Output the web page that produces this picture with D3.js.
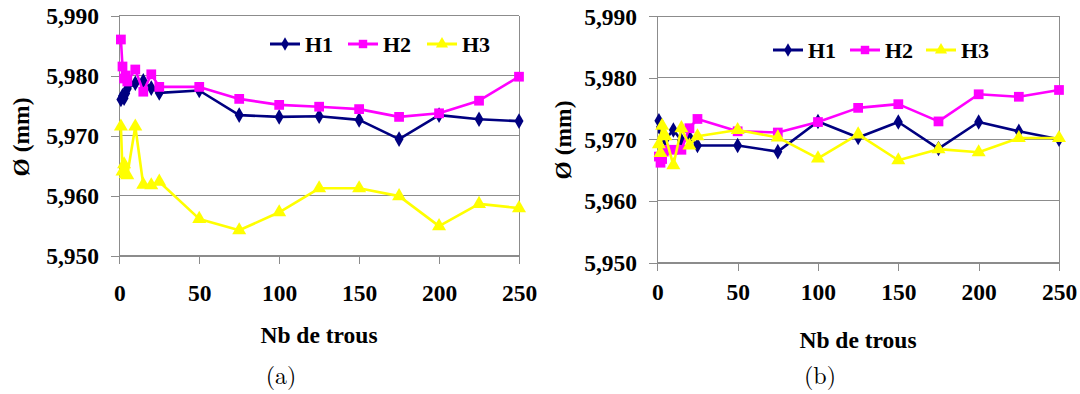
<!DOCTYPE html>
<html>
<head>
<meta charset="utf-8">
<script src="https://cdn.jsdelivr.net/npm/d3@7"></script>
</head>
<body style="margin:0">
<svg id="chart" width="1080" height="394"></svg>
<script>
// ---- data ----
const xValues = [1, 2, 3, 4, 5, 10, 15, 20, 25, 50, 75, 100, 125, 150, 175, 200, 225, 250];
const seriesNames = ["H1", "H2", "H3"];
const xTicks = [0, 50, 100, 150, 200, 250];
const yTicks = [5.950, 5.960, 5.970, 5.980, 5.990];

// panel (a)
const aH1 = [5.9760, 5.9766, 5.9762, 5.9770, 5.9778, 5.9787, 5.9791, 5.9779, 5.9771, 5.9775, 5.9734, 5.9731, 5.9732, 5.9726, 5.9694, 5.9734, 5.9727, 5.9724];
const aH2 = [5.9860, 5.9815, 5.9795, 5.9800, 5.9790, 5.9810, 5.9773, 5.9802, 5.9781, 5.9781, 5.9761, 5.9751, 5.9748, 5.9744, 5.9731, 5.9737, 5.9758, 5.9798];
const aH3 = [5.9715, 5.9640, 5.9652, 5.9636, 5.9634, 5.9715, 5.9618, 5.9617, 5.9623, 5.9561, 5.9542, 5.9572, 5.9612, 5.9612, 5.9599, 5.9549, 5.9586, 5.9579];

// panel (b)
const bH1 = [5.9730, 5.9720, 5.9712, 5.9705, 5.9700, 5.9715, 5.9698, 5.9703, 5.9690, 5.9690, 5.9680, 5.9729, 5.9703, 5.9728, 5.9685, 5.9728, 5.9713, 5.9700];
const bH2 = [5.9672, 5.9662, 5.9668, 5.9680, 5.9683, 5.9683, 5.9683, 5.9718, 5.9733, 5.9713, 5.9711, 5.9728, 5.9751, 5.9757, 5.9729, 5.9773, 5.9769, 5.9780];
const bH3 = [5.9692, 5.9678, 5.9722, 5.9708, 5.9705, 5.9658, 5.9718, 5.9690, 5.9705, 5.9715, 5.9703, 5.9669, 5.9708, 5.9666, 5.9684, 5.9679, 5.9702, 5.9702];

const captions = ["(a)", "(b)"];
const xTitle = "Nb de trous";
const yTitle = "Ø (mm)";

// ---- styles ----
const colors = ["#000080", "#FF00FF", "#FFFF00"];
const symbols = [d3.symbolDiamond, d3.symbolSquare, d3.symbolTriangle];
const symSizes = [70, 95, 85];
const gridColor = "#8c8c8c";
const FS = 23.5;

const svg = d3.select("#chart");

const panels = [
  { data: [aH1, aH2, aH3], x0: 119.3, x1: 519, yTop: 15.5, yBot: 255.5,
    yLabelRight: 99, yTitleX: 29, yTitleY: 137, tickBase: 301,
    xTitleX: 319, xTitleBase: 343, capX: 281, capBase: 384,
    legendX: [270, 348, 427], legendY: 44 },
  { data: [bH1, bH2, bH3], x0: 657.3, x1: 1059, yTop: 16, yBot: 262.6,
    yLabelRight: 637, yTitleX: 571, yTitleY: 140, tickBase: 300,
    xTitleX: 858, xTitleBase: 348, capX: 820, capBase: 384,
    legendX: [773, 850, 926], legendY: 50 }
];

const fmtY = v => d3.format(".3f")(v).replace(".", ",");

function bold(sel, size) {
  return sel.style("font-family", '"Liberation Serif", "Times New Roman", serif')
    .style("font-weight", "bold").style("font-size", size + "px").style("fill", "#000");
}

panels.forEach((p, pi) => {
  const x = d3.scaleLinear().domain([0, 250]).range([p.x0, p.x1]);
  const y = d3.scaleLinear().domain([5.950, 5.990]).range([p.yBot, p.yTop]);
  const g = svg.append("g");

  // gridlines and right border
  g.append("g").selectAll("line").data(yTicks).join("line")
    .attr("x1", p.x0).attr("x2", p.x1)
    .attr("y1", d => y(d)).attr("y2", d => y(d))
    .attr("stroke", gridColor).attr("stroke-width", 1).attr("shape-rendering", "crispEdges");
  g.append("line").attr("x1", p.x1).attr("x2", p.x1).attr("y1", p.yTop).attr("y2", p.yBot)
    .attr("stroke", gridColor).attr("stroke-width", 1).attr("shape-rendering", "crispEdges");

  // y axis
  const yAxis = d3.axisLeft(y).tickValues(yTicks).tickFormat(fmtY).tickSize(8).tickPadding(3);
  const ya = g.append("g").attr("transform", `translate(${p.x0},0)`).call(yAxis);
  ya.attr("font-family", null).attr("font-size", null);
  ya.select(".domain").attr("stroke", gridColor).attr("shape-rendering", "crispEdges");
  ya.selectAll(".tick line").attr("stroke", gridColor).attr("shape-rendering", "crispEdges");
  bold(ya.selectAll(".tick text"), FS).attr("x", p.yLabelRight - p.x0).attr("dy", "0.34em");

  // x axis
  const xAxis = d3.axisBottom(x).tickValues(xTicks).tickFormat(d3.format("d")).tickSize(8).tickPadding(3);
  const xa = g.append("g").attr("transform", `translate(0,${p.yBot})`).call(xAxis);
  xa.attr("font-family", null).attr("font-size", null);
  xa.select(".domain").attr("stroke", gridColor).attr("shape-rendering", "crispEdges");
  xa.selectAll(".tick line").attr("stroke", gridColor).attr("shape-rendering", "crispEdges");
  bold(xa.selectAll(".tick text"), FS).attr("y", p.tickBase - p.yBot).attr("dy", 0);

  // titles and caption
  bold(g.append("text").attr("x", p.xTitleX).attr("y", p.xTitleBase).attr("text-anchor", "middle"), FS).text(xTitle);
  bold(g.append("text").attr("transform", `translate(${p.yTitleX},${p.yTitleY}) rotate(-90)`)
    .attr("text-anchor", "middle"), FS).text(yTitle);
  g.append("text").attr("x", p.capX).attr("y", p.capBase).attr("text-anchor", "middle")
    .style("font-family", '"Latin Modern Roman", "Liberation Serif", serif').style("font-size", "24px")
    .style("fill", "#000").text(captions[pi]);

  // series
  const line = d3.line().x((d, i) => x(xValues[i])).y(d => y(d));
  p.data.forEach((vals, si) => {
    const sg = g.append("g");
    sg.append("path").datum(vals).attr("d", line).attr("fill", "none")
      .attr("stroke", colors[si]).attr("stroke-width", 2.6).attr("stroke-linejoin", "round");
    sg.selectAll("path.m").data(vals).join("path").attr("class", "m")
      .attr("transform", (d, i) => `translate(${x(xValues[i])},${y(d)})`)
      .attr("d", d3.symbol(symbols[si], symSizes[si])())
      .attr("fill", colors[si]);
  });

  // legend
  seriesNames.forEach((name, si) => {
    const lx = p.legendX[si];
    g.append("line").attr("x1", lx).attr("x2", lx + 30).attr("y1", p.legendY).attr("y2", p.legendY)
      .attr("stroke", colors[si]).attr("stroke-width", 3);
    g.append("path").attr("transform", `translate(${lx + 15},${p.legendY})`)
      .attr("d", d3.symbol(symbols[si], symSizes[si] * 0.75)()).attr("fill", colors[si]);
    bold(g.append("text").attr("x", lx + 35).attr("y", p.legendY + 8), 22).text(name);
  });
});
</script>
</body>
</html>
